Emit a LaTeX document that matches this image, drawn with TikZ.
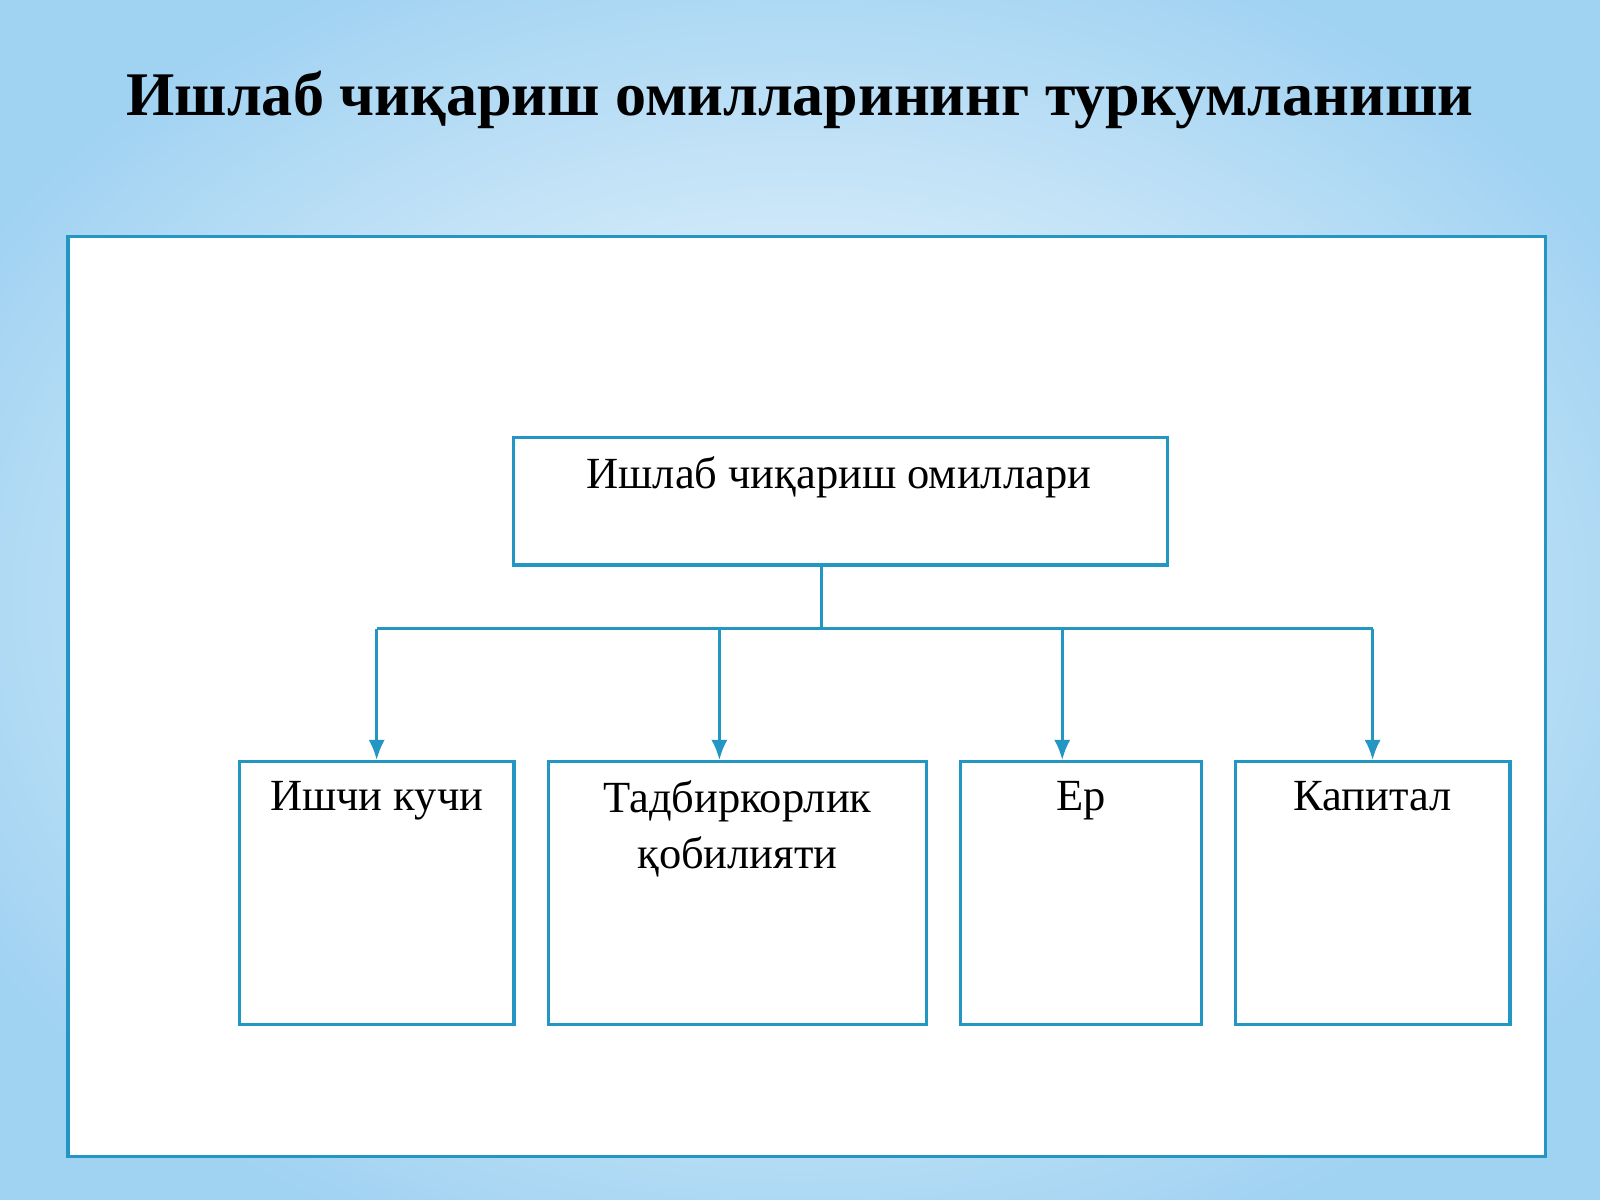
\documentclass[tikz,border=0pt]{standalone}
\usepackage{fontspec}
\setmainfont{Liberation Serif}
\usetikzlibrary{arrows.meta}
\definecolor{lineblue}{RGB}{35,150,195}
\definecolor{skyblue}{RGB}{160,210,242}
\tikzset{
  box/.style={rectangle, draw=lineblue, line width=0.9pt, fill=white, anchor=north west, align=center},
  boxtext/.style={font=\fontsize{12.4}{15.5}\selectfont, anchor=north, align=center},
  link/.style={draw=lineblue, line width=0.9pt},
  arrow/.style={link, -{Latex[length=2mm, width=1.6mm]}}
}
\begin{document}
\begin{tikzpicture}[x=0.01cm, y=-0.01cm]
 \useasboundingbox (0,0) rectangle (1568,1176);
 % background
 \shade[inner color=white, outer color=skyblue] (-150,-100) rectangle (1718,1276);
 \node [font=\bfseries\fontsize{17.3}{20}\selectfont] (title) at (784,98) {Ишлаб чиқариш омилларининг туркумланиши};
 \node [rectangle, draw=lineblue, line width=1pt, fill=white, minimum width=14.47cm, minimum height=9.01cm, anchor=north west] (frame) at (65,230) {};

 \node [box, minimum width=6.4cm, minimum height=1.25cm] (factors) at (502,427) {};
 \node [boxtext] at (822,435) (factorstxt) {Ишлаб чиқариш омиллари};

 \node [box, minimum width=2.69cm, minimum height=2.57cm] (labour) at (233,745) {};
 \node [box, minimum width=3.70cm, minimum height=2.57cm] (entre)  at (536,745) {};
 \node [box, minimum width=2.36cm, minimum height=2.57cm] (land)   at (940,745) {};
 \node [box, minimum width=2.69cm, minimum height=2.57cm] (capital) at (1209,745) {};

 \node [boxtext] at (labour.north) [yshift=-0.08cm] {Ишчи кучи};
 \node [boxtext] at (entre.north) [yshift=-0.08cm] {Тадбиркорлик\\қобилияти};
 \node [boxtext] at (land.north) [yshift=-0.08cm] {Ер};
 \node [boxtext] at (capital.north) [yshift=-0.08cm] {Капитал};

 \coordinate (split) at (805,616);
 \coordinate (drop2) at (705,616);
 \coordinate (drop3) at (1041,616);
 \draw [link] (factors.south -| split) -- (split);
 \draw [link] (split -| labour.north) -- (split -| capital.north);
 \draw [arrow] (split -| labour.north) -- (labour.north);
 \draw [arrow] (drop2) -- (drop2 |- entre.north);
 \draw [arrow] (drop3) -- (drop3 |- land.north);
 \draw [arrow] (split -| capital.north) -- (capital.north);
\end{tikzpicture}
\end{document}
